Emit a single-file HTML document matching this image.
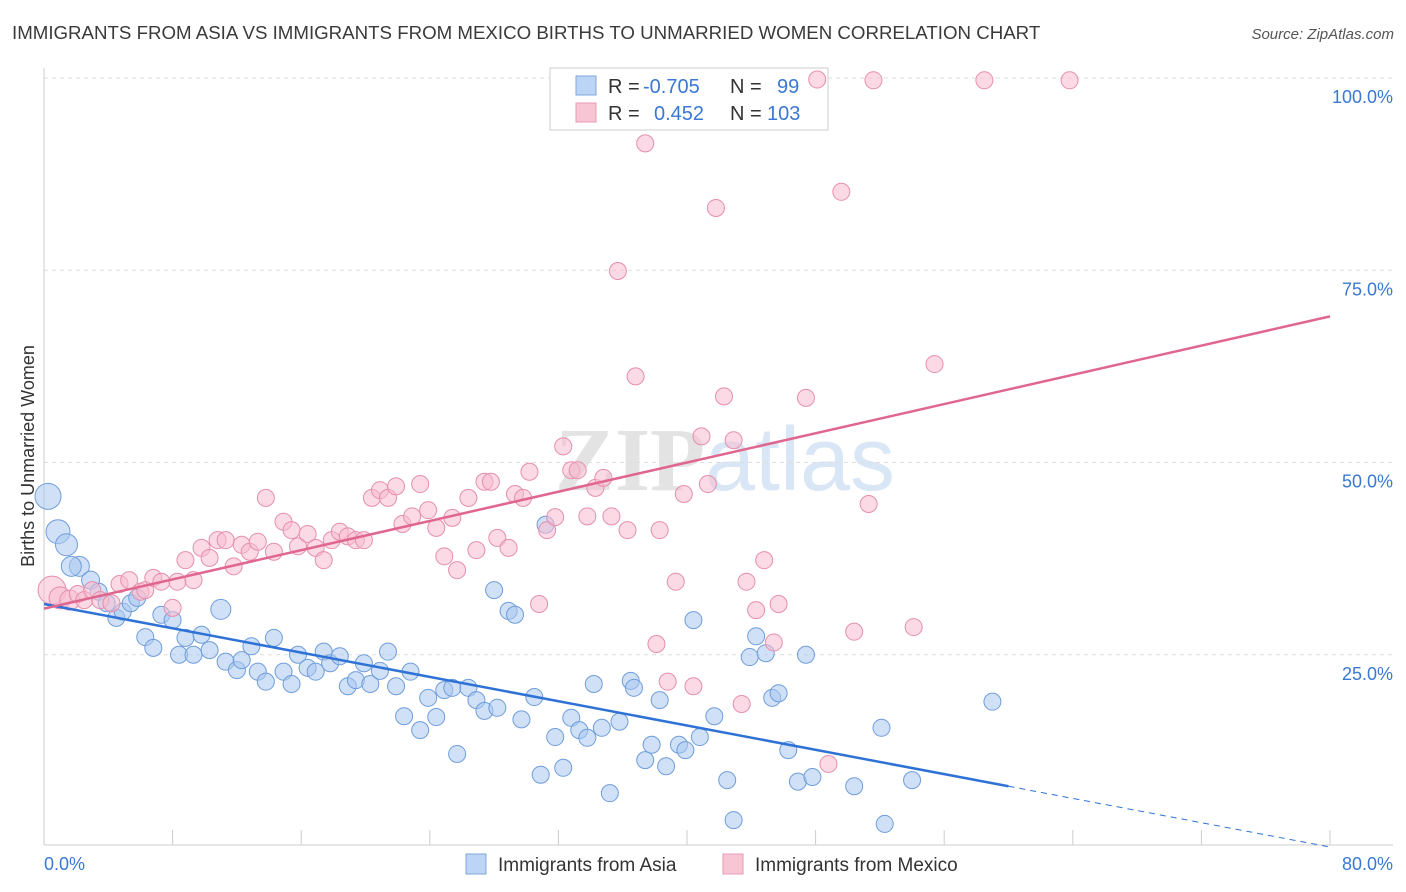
<!DOCTYPE html>
<html><head><meta charset="utf-8">
<style>
body{margin:0;background:#fff;font-family:"Liberation Sans",sans-serif;}
svg{display:block}
</style></head>
<body>
<svg id="chart" width="1406" height="892" xmlns="http://www.w3.org/2000/svg">
<text x="12" y="39" font-size="18.7" fill="#3a3a3a">IMMIGRANTS FROM ASIA VS IMMIGRANTS FROM MEXICO BIRTHS TO UNMARRIED WOMEN CORRELATION CHART</text>
<text x="1394" y="39" font-size="15" fill="#555" text-anchor="end" font-style="italic">Source: ZipAtlas.com</text>
<text transform="translate(34,456) rotate(-90)" font-size="18" fill="#333" text-anchor="middle">Births to Unmarried Women</text>
<g font-size="90" text-anchor="middle">
<text x="630" y="490" fill="#e3e3e3" font-family="Liberation Serif,serif" font-weight="bold">ZIP</text>
<text x="800" y="490" fill="#d9e6f5">atlas</text>
</g>
<g id="grid"></g>
<g id="axes"></g>
<g font-size="20">
<rect x="550" y="68" width="278" height="62" fill="#fff" stroke="#ccc"/>
<rect x="576" y="76" width="20" height="19" fill="#bcd4f5" stroke="#7fa6dd"/>
<rect x="576" y="103" width="20" height="19" fill="#f8c5d5" stroke="#e79ab3"/>
<text x="608" y="93" fill="#333">R =</text>
<text x="643" y="93" fill="#3a78d4">-0.705</text>
<text x="730" y="93" fill="#333">N =</text>
<text x="777" y="93" fill="#3a78d4">99</text>
<text x="608" y="120" fill="#333">R =</text>
<text x="654" y="120" fill="#3a78d4">0.452</text>
<text x="730" y="120" fill="#333">N =</text>
<text x="767" y="120" fill="#3a78d4">103</text>
</g>
<g id="pts"></g>
<g id="lines"></g>
<g font-size="19" fill="#333">
<rect x="466" y="854" width="20" height="20" fill="#bcd4f5" stroke="#7fa6dd"/>
<text x="498" y="871">Immigrants from Asia</text>
<rect x="723" y="854" width="20" height="20" fill="#f8c5d5" stroke="#e79ab3"/>
<text x="755" y="871">Immigrants from Mexico</text>
</g>
</svg>
<script>
const yTicks=[100,75,50,25];
const yTickLabels=["100.0%","75.0%","50.0%","25.0%"];
const xTickLabels=["0.0%","80.0%"];
const asiaPoints=[[0.25,45.6,13],[0.87,41.0,12],[1.4,39.3,11],[2.2,36.5,10],[1.7,36.5,10],[2.9,34.7,9],[3.4,33.2],[3.9,31.7],[4.5,29.8],[4.9,30.6],[5.4,31.7],[5.8,32.4],[6.3,27.3],[6.8,25.9],[7.3,30.2],[8.0,29.5],[8.4,25.0],[8.8,27.2],[9.3,25.0],[9.8,27.6],[10.3,25.6],[11.0,30.9,10],[11.3,24.1],[12.0,23.0],[12.3,24.3],[12.9,26.1],[13.3,22.8],[13.8,21.5],[14.3,27.2],[14.9,22.8],[15.4,21.2],[15.8,25.0],[16.4,23.3],[16.9,22.8],[17.4,25.4],[17.8,23.9],[18.4,24.8],[18.9,20.9],[19.4,21.7],[19.9,23.9],[20.3,21.2],[20.9,22.9],[21.4,25.4],[21.9,20.9],[22.4,17.0],[22.8,22.8],[23.4,15.2],[23.9,19.4],[24.4,16.9],[24.9,20.4],[25.4,20.7],[25.7,12.1],[26.4,20.7],[26.9,19.1],[27.4,17.7],[28.0,33.4],[28.2,18.1],[28.9,30.7],[29.3,30.2],[29.7,16.6],[30.5,19.5],[30.9,9.4],[31.2,41.9],[31.8,14.3],[32.3,10.3],[32.8,16.8],[33.3,15.2],[33.8,14.2],[34.2,21.2],[34.7,15.5],[35.2,7.0],[35.8,16.3],[36.5,21.6],[36.7,20.7],[37.4,11.3],[37.8,13.3],[38.3,19.1],[38.7,10.5],[39.5,13.3],[39.9,12.6],[40.4,29.5],[40.8,14.3],[41.7,17.0],[42.5,8.7],[42.9,3.5],[43.9,24.7],[44.3,27.4],[44.9,25.2],[45.3,19.4],[45.7,20.0],[46.3,12.6],[46.9,8.5],[47.4,25.0],[47.8,9.1],[50.4,7.9],[52.1,15.5],[52.3,3.0],[54.0,8.7],[59.0,18.9]];
const mexicoPoints=[[0.5,33.4,14],[1.0,32.4,11],[1.6,32.1,10],[2.1,32.9],[2.5,32.1],[3.0,33.4],[3.5,32.1],[4.2,31.7],[4.7,34.2],[5.3,34.7],[6.0,33.2],[6.3,33.4],[6.8,35.0],[7.3,34.5],[8.0,31.1],[8.3,34.5],[8.8,37.3],[9.3,34.7],[9.8,38.9],[10.3,37.6],[10.8,39.9],[11.3,39.9],[11.8,36.5],[12.3,39.3],[12.8,38.4],[13.3,39.7],[13.8,45.4],[14.3,38.4],[14.9,42.3],[15.4,41.2],[15.8,39.1],[16.4,40.7],[16.9,38.9],[17.4,37.3],[17.9,39.9],[18.4,41.0],[18.9,40.4],[19.4,39.9],[19.9,39.9],[20.4,45.4],[20.9,46.4],[21.4,45.4],[21.9,46.9],[22.3,42.0],[22.9,43.0],[23.4,47.2],[23.9,43.8],[24.4,41.5],[24.9,37.8],[25.4,42.8],[25.7,36.0],[26.4,45.4],[26.9,38.6],[27.4,47.5],[27.8,47.5],[28.2,40.2],[28.9,38.9],[29.3,45.9],[29.8,45.4],[30.2,48.8],[30.8,31.6],[31.3,41.2],[31.8,42.9],[32.3,52.1],[32.8,49.0],[33.2,49.0],[33.8,43.0],[34.3,46.7],[34.8,48.0],[35.3,43.0],[35.7,74.9],[36.3,41.2],[36.8,61.2],[37.4,91.5],[38.1,26.4],[38.3,41.2],[38.8,21.5],[39.3,34.5],[39.8,45.9],[40.4,20.9],[40.9,53.4],[41.3,47.2],[41.8,83.1],[42.3,58.6],[42.9,52.9],[43.4,18.6],[43.7,34.5],[44.3,30.8],[44.8,37.3],[45.4,26.6],[45.7,31.6],[47.4,58.4],[48.1,99.8],[48.8,10.8],[49.6,85.2],[50.4,28.0],[51.3,44.6],[51.6,99.7],[54.1,28.6],[55.4,62.8],[58.5,99.7],[63.8,99.7]];
const asiaTrend=[0,31.6,60,7.9,80,0];
const mexicoTrend=[0,31.0,80,69.0];
const xTicks=[0,8,16,24,32,40,48,56,64,72,80];

const NS="http://www.w3.org/2000/svg";
const X0=44,X1=1330,Y0=847,Y100=78;
function sx(v){return X0+(v/80)*(X1-X0);}
function sy(v){return Y0-(v/100)*(Y0-Y100);}
function mk(tag,attrs,parent){const e=document.createElementNS(NS,tag);for(const k in attrs)e.setAttribute(k,attrs[k]);parent.appendChild(e);return e;}
const grid=document.getElementById('grid'),axes=document.getElementById('axes'),pts=document.getElementById('pts'),lines=document.getElementById('lines');
yTicks.forEach((t,i)=>{
 const l=mk('line',{x1:X0,x2:1393,y1:sy(t),y2:sy(t),stroke:'#ddd','stroke-dasharray':'4,4'},grid);
 
 
 const tx=mk('text',{x:1393,y:sy(t)+25,'font-size':18,fill:'#3a78d4','text-anchor':'end'},axes);
 tx.textContent=yTickLabels[i];
 
 
});
const ax=mk('line',{x1:X0,x2:X0,y1:68,y2:845,stroke:'#ccc'},axes);


const bx=mk('line',{x1:X0,x2:1393,y1:845,y2:845,stroke:'#ccc'},axes);


xTicks.forEach(v=>{
 const t=mk('line',{x1:sx(v),x2:sx(v),y1:830,y2:845,stroke:'#ccc'},axes);
 
 
});
[[0,'start',xTickLabels[0]],[80,'end',xTickLabels[1]]].forEach(a=>{
 const t=mk('text',{x:a[0]===0?44:1393,y:870,'font-size':18,fill:'#3a78d4','text-anchor':a[1]},axes);
 t.textContent=a[2];
 
 
});
function drawPts(arr,fill,stroke,name){arr.forEach(p=>{
 const c=mk('circle',{cx:sx(p[0]),cy:sy(p[1]),r:p[2]||8.5,fill:fill,'fill-opacity':0.55,stroke:stroke,'stroke-width':1},pts);
 
 
});}
drawPts(asiaPoints,'#aac8f0','#6f9ddb','asia-point');
drawPts(mexicoPoints,'#f7bccf','#e58fab','mexico-point');
const a1=mk('line',{x1:sx(asiaTrend[0]),y1:sy(asiaTrend[1]),x2:sx(asiaTrend[2]),y2:sy(asiaTrend[3]),stroke:'#2f72d6','stroke-width':2.5},lines);


const a2=mk('line',{x1:sx(asiaTrend[2]),y1:sy(asiaTrend[3]),x2:sx(asiaTrend[4]),y2:sy(asiaTrend[5]),stroke:'#2f72d6','stroke-width':1,'stroke-dasharray':'6,5'},lines);


const m1=mk('line',{x1:sx(mexicoTrend[0]),y1:sy(mexicoTrend[1]),x2:sx(mexicoTrend[2]),y2:sy(mexicoTrend[3]),stroke:'#e0668f','stroke-width':2.5},lines);


</script>
</body></html>
